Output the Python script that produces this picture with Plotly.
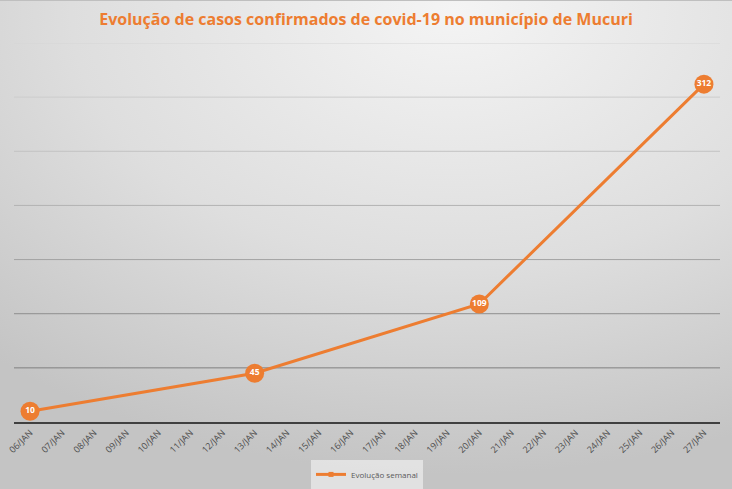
import base64
import plotly.graph_objects as go

# Dados
datas = ['06/JAN', '07/JAN', '08/JAN', '09/JAN', '10/JAN', '11/JAN', '12/JAN',
         '13/JAN', '14/JAN', '15/JAN', '16/JAN', '17/JAN', '18/JAN', '19/JAN',
         '20/JAN', '21/JAN', '22/JAN', '23/JAN', '24/JAN', '25/JAN', '26/JAN', '27/JAN']
casos = [10, None, None, None, None, None, None,
         45, None, None, None, None, None, None,
         109, None, None, None, None, None, None,
         312]
grade_y = [50, 100, 150, 200, 250, 300, 350]

W, H = 732, 489
margem = dict(l=14, r=12, t=43, b=67, autoexpand=False)
larg = W - margem['l'] - margem['r']
alt = H - margem['t'] - margem['b']

laranja = '#ED7D31'

# fundo em gradiente radial (estilo Excel)
svg = f'''<svg xmlns="http://www.w3.org/2000/svg" width="{W}" height="{H}" preserveAspectRatio="none">
<defs><radialGradient id="g" cx="0.62" cy="0.02" r="0.95" gradientUnits="objectBoundingBox">
<stop offset="0" stop-color="#f4f4f4"/><stop offset="0.55" stop-color="#dedede"/>
<stop offset="1" stop-color="#c4c4c4"/></radialGradient></defs>
<rect width="{W}" height="{H}" fill="url(#g)"/>
<line x1="0" y1="0.5" x2="{W}" y2="0.5" stroke="#bfbfbf" stroke-width="1"/>
</svg>'''
fundo = 'data:image/svg+xml;base64,' + base64.b64encode(svg.encode()).decode()

fig = go.Figure(go.Scatter(
    x=datas, y=casos,
    mode='lines+markers+text',
    connectgaps=True,
    showlegend=False,
    line=dict(color=laranja, width=3),
    marker=dict(color=laranja, size=19),
    text=[str(v) if v is not None else '' for v in casos],
    textposition='middle center',
    textfont=dict(color='white', size=8.5, family='Open Sans'),
    texttemplate='<b>%{text}</b>',
    cliponaxis=False,
))
# entrada da legenda com marcador pequeno
fig.add_trace(go.Scatter(
    x=[None], y=[None], mode='lines+markers', name='Evolução semanal',
    line=dict(color=laranja, width=3), marker=dict(color=laranja, size=5, symbol='square'),
))

# linhas de grade com tom que escurece para baixo
tons = ['#7f7f7f', '#8f8f8f', '#a3a3a3', '#b3b3b3', '#c2c2c2', '#cdcdcd', '#d6d6d6']
for v, c in zip(grade_y, tons):
    fig.add_shape(type='line', xref='paper', yref='y', x0=0, x1=1, y0=v, y1=v,
                  line=dict(color=c, width=1), layer='below')

fig.add_layout_image(dict(
    source=fundo, xref='paper', yref='paper',
    x=-margem['l'] / larg, y=1 + margem['t'] / alt,
    sizex=W / larg, sizey=H / alt,
    xanchor='left', yanchor='top', sizing='stretch', layer='below'))

fig.update_layout(
    width=W, height=H,
    margin=margem,
    paper_bgcolor='#dcdcdc',
    plot_bgcolor='rgba(0,0,0,0)',
    title=dict(text='<b>Evolução de casos confirmados de covid-19 no município de Mucuri</b>',
               x=0.5, xanchor='center', y=0.96, yanchor='middle',
               font=dict(color=laranja, size=16, family='Open Sans')),
    showlegend=True,
    legend=dict(orientation='h', x=0.5, xanchor='center', y=-0.1, yanchor='top',
                bgcolor='rgba(238,238,238,0.7)', itemwidth=30,
                font=dict(color='#595959', size=8, family='Open Sans')),
    font=dict(family='Open Sans'),
)
fig.update_xaxes(type='category', range=[-0.5, len(datas) - 0.5], automargin=False,
                 tickangle=-45, tickfont=dict(color='#4d4d4d', size=9),
                 showgrid=False, showline=True, linecolor='#404040', linewidth=2,
                 ticks='', fixedrange=True)
fig.update_yaxes(range=[0, 350], showgrid=False, showticklabels=False, automargin=False,
                 zeroline=False, showline=False, fixedrange=True)

# sem margem do body para o gráfico ocupar a janela toda
fig.write_html('out.html', config={'displayModeBar': False},
               post_script="document.body.style.margin='0';")
